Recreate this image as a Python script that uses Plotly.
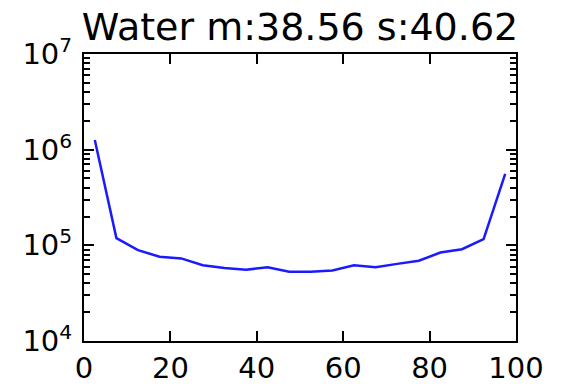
import plotly.graph_objects as go

bin_centers = [2.5, 7.5, 12.5, 17.5, 22.5, 27.5, 32.5, 37.5, 42.5, 47.5,
               52.5, 57.5, 62.5, 67.5, 72.5, 77.5, 82.5, 87.5, 92.5, 97.5]
counts = [1.26e6, 1.19e5, 8.9e4, 7.6e4, 7.3e4, 6.2e4, 5.8e4, 5.55e4, 5.9e4, 5.3e4,
          5.3e4, 5.45e4, 6.2e4, 5.9e4, 6.4e4, 6.9e4, 8.4e4, 9.1e4, 1.16e5, 5.57e5]
title_text = "Water m:38.56 s:40.62"
x_ticks = [0, 20, 40, 60, 80, 100]
y_tick_vals = [1e4, 1e5, 1e6, 1e7]
y_tick_text = ["10<sup>4</sup>", "10<sup>5</sup>", "10<sup>6</sup>", "10<sup>7</sup>"]

fig = go.Figure()
fig.add_trace(go.Scatter(x=bin_centers, y=counts, mode="lines",
                         line=dict(color="#1a1aff", width=2.5), showlegend=False))

font_family = "DejaVu Sans"
fig.update_layout(
    width=561, height=384,
    margin=dict(l=84, r=45, t=54, b=43),
    paper_bgcolor="white", plot_bgcolor="white",
    font=dict(family=font_family, color="black", size=29),
    title=dict(text=title_text, x=0.5, xref="paper", xanchor="center",
               y=1 - 27 / 384, yref="container", yanchor="middle", automargin=False,
               font=dict(size=38, family=font_family, color="black")),
)
fig.update_xaxes(range=[0, 100], tickvals=x_ticks, ticks="inside", ticklen=10,
                 tickwidth=1.5, tickcolor="black", showline=True, linecolor="black",
                 linewidth=2, mirror="allticks", showgrid=False, zeroline=False,
                 automargin=False, tickfont=dict(size=29))
fig.update_yaxes(type="log", range=[4, 7], tickvals=y_tick_vals, ticktext=y_tick_text,
                 ticks="inside", ticklen=10, tickwidth=1.5, tickcolor="black",
                 showline=True, linecolor="black", linewidth=2, mirror="allticks",
                 showgrid=False, zeroline=False, automargin=False, tickfont=dict(size=29),
                 ticklabelstandoff=4,
                 minor=dict(ticks="inside", ticklen=6, tickwidth=1.5, tickcolor="black",
                            showgrid=False,
                            tickvals=[m * 10 ** e for e in range(4, 7) for m in range(2, 10)]))

fig.write_html("out.html")
